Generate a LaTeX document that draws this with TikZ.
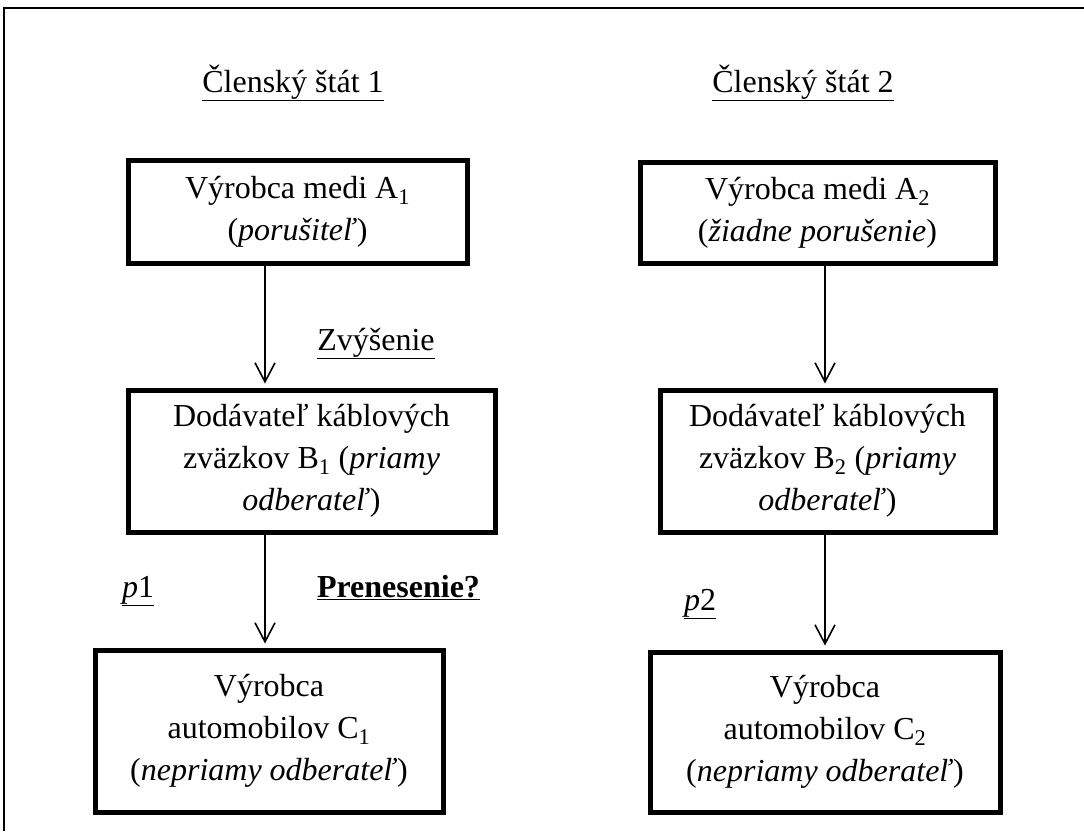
\documentclass[tikz,border=0pt]{standalone}
\usepackage{fontspec}
\setmainfont{Liberation Serif}
\usetikzlibrary{arrows.meta,calc}
\newcommand{\fsz}{\fontsize{32}{42}\selectfont}
\begin{document}
\begin{tikzpicture}[x=1pt,y=-1pt,
  box/.style={draw,line width=5pt,align=center,inner sep=0pt,font=\fsz},
  lbl/.style={inner sep=0pt,anchor=base,font=\fsz},
  arr/.style={line width=1.6pt,shorten >=4pt,-{Straight Barb[length=19pt,width=20pt,line width=1.6pt]}}]
\useasboundingbox (0,0) rectangle (1084,831);
\coordinate (fbl) at (4,831);
\coordinate (ftl) at (4,8);
\coordinate (ftr) at (1084,8);
\draw[line width=2.5pt] (fbl) -- (ftl) -- (ftr);

\node[lbl] (t1) at (293,92) {\underline{Členský štát 1}};
\node[lbl] (t2) at (803,92) {\underline{Členský štát 2}};

\node[box,minimum width=339pt,minimum height=103pt] (a1) at (297.5,211.5)
  {Výrobca medi A\textsubscript{1}\\(\textit{porušiteľ})};
\node[box,minimum width=355pt,minimum height=101pt] (a2) at (817.5,212.5)
  {Výrobca medi A\textsubscript{2}\\(\textit{žiadne porušenie})};
\node[box,minimum width=367pt,minimum height=142pt] (b1) at (311.5,461)
  {Dodávateľ káblových\\zväzkov B\textsubscript{1} (\textit{priamy}\\\textit{odberateľ})};
\node[box,minimum width=335pt,minimum height=142pt] (b2) at (827.5,461)
  {Dodávateľ káblových\\zväzkov B\textsubscript{2} (\textit{priamy}\\\textit{odberateľ})};
\node[box,minimum width=348pt,minimum height=162pt] (c1) at (269,731)
  {Výrobca\\automobilov C\textsubscript{1}\\(\textit{nepriamy odberateľ})};
\node[box,minimum width=350pt,minimum height=160pt] (c2) at (825,732)
  {Výrobca\\automobilov C\textsubscript{2}\\(\textit{nepriamy odberateľ})};

\coordinate (xl) at (265,0);
\coordinate (xr) at (825,0);
\draw[arr] (a1.south -| xl) -- (b1.north -| xl);
\draw[arr] (b1.south -| xl) -- (c1.north -| xl);
\draw[arr] (a2.south -| xr) -- (b2.north -| xr);
\draw[arr] (b2.south -| xr) -- (c2.north -| xr);

\node[lbl] (zv) at (376,350) {\underline{Zvýšenie}};
\node[lbl] (pr) at (398.5,597) {\underline{\textbf{Prenesenie?}}};
\node[lbl] (p1) at (138,597) {\underline{\textit{p}1}};
\node[lbl] (p2) at (700,610) {\underline{\textit{p}2}};
\end{tikzpicture}
\end{document}
